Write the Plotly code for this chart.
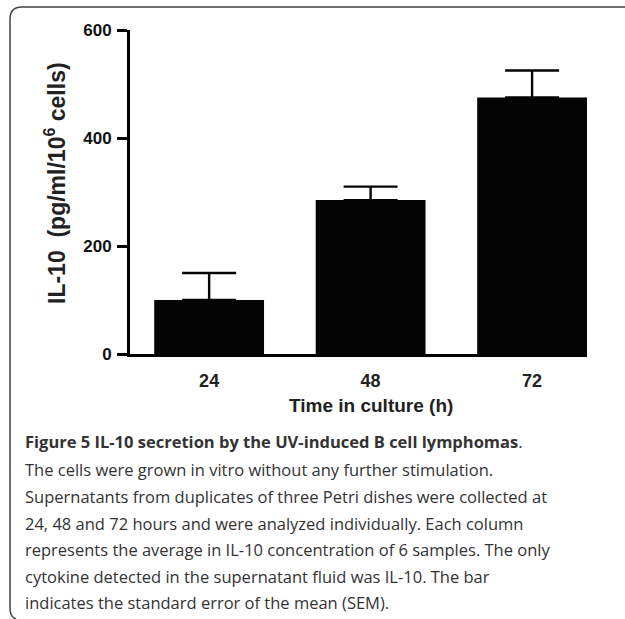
import plotly.graph_objects as go

# ---- data ----
time_labels = ["24", "48", "72"]
il10_mean = [100, 285, 475]
il10_sem = [50, 25, 50]
y_ticks = [0, 200, 400, 600]

x_title = "Time in culture (h)"
y_title = "IL-10\u00a0\u00a0(pg/ml/10<sup>6</sup> cells)"
caption_lines = [
    "<b>Figure 5 IL-10 secretion by the UV-induced B cell lymphomas</b>.",
    "The cells were grown in vitro without any further stimulation.",
    "Supernatants from duplicates of three Petri dishes were collected at",
    "24, 48 and 72 hours and were analyzed individually. Each column",
    "represents the average in IL-10 concentration of 6 samples. The only",
    "cytokine detected in the supernatant fluid was IL-10. The bar",
    "indicates the standard error of the mean (SEM).",
]

# ---- layout geometry (pixels) ----
W, H = 625, 619
L, R, T, B = 130, 587, 30, 354
PW, PH = R - L, B - T


def px(xp):
    return (xp - L) / PW


def py(yp):
    return (B - yp) / PH


fig = go.Figure()
fig.add_trace(go.Bar(
    x=time_labels, y=il10_mean,
    marker=dict(color="#050505", line=dict(width=0)),
    error_y=dict(type="data", array=il10_sem, symmetric=False,
                 arrayminus=[0] * len(il10_sem),
                 color="#050505", thickness=2.4, width=27),
    showlegend=False,
))

chart_font = "Liberation Sans, Arial, sans-serif"
cap_font = "Open Sans, Noto Sans, sans-serif"

fig.update_layout(
    width=W, height=H,
    margin=dict(l=L, r=W - R, t=T, b=H - B, pad=0),
    paper_bgcolor="white", plot_bgcolor="white",
    bargap=0.32,
    xaxis=dict(
        type="category", range=[-0.49, 2.34],
        showline=True, linecolor="black", linewidth=3,
        ticks="", showgrid=False, zeroline=False,
        tickfont=dict(family=chart_font, size=18, color="#222", weight="bold"),
        ticklabelstandoff=8,
    ),
    yaxis=dict(
        range=[0, 600], tickvals=y_ticks,
        showline=True, linecolor="black", linewidth=3,
        ticks="outside", ticklen=10, tickwidth=3, tickcolor="black",
        showgrid=False, zeroline=False,
        tickfont=dict(family=chart_font, size=17, color="#111", weight="bold"),
        ticklabelstandoff=2,
    ),
)

ann = []
ann.append(dict(text=x_title, xref="x", yref="paper", x=1, y=py(405),
                showarrow=False, xanchor="center", yanchor="middle",
                font=dict(family=chart_font, size=19, color="#222", weight="bold")))
ann.append(dict(text=y_title, xref="paper", yref="paper", x=px(55), y=py(183),
                showarrow=False, textangle=-90, xanchor="center", yanchor="middle",
                font=dict(family=chart_font, size=23, color="#222", weight="bold")))
cap_y = [442, 469, 496, 523, 549, 576, 602]
for line, yy in zip(caption_lines, cap_y):
    ann.append(dict(text=line, xref="paper", yref="paper", x=px(23), y=py(yy),
                    showarrow=False, xanchor="left", yanchor="middle",
                    font=dict(family=cap_font, size=16.5, color="#333")))
fig.update_layout(annotations=ann)

# rounded frame around the figure
frame = (f"M {px(640)},{py(7)} L {px(22)},{py(7)} "
         f"Q {px(10)},{py(7)} {px(10)},{py(19)} "
         f"L {px(10)},{py(608)} Q {px(10)},{py(617)} {px(16)},{py(619)}")
fig.add_shape(type="path", path=frame, xref="paper", yref="paper",
              line=dict(color="#444", width=1.5))

fig.write_html("out.html", config={"displayModeBar": False},
               post_script="document.body.style.margin='0px';")
